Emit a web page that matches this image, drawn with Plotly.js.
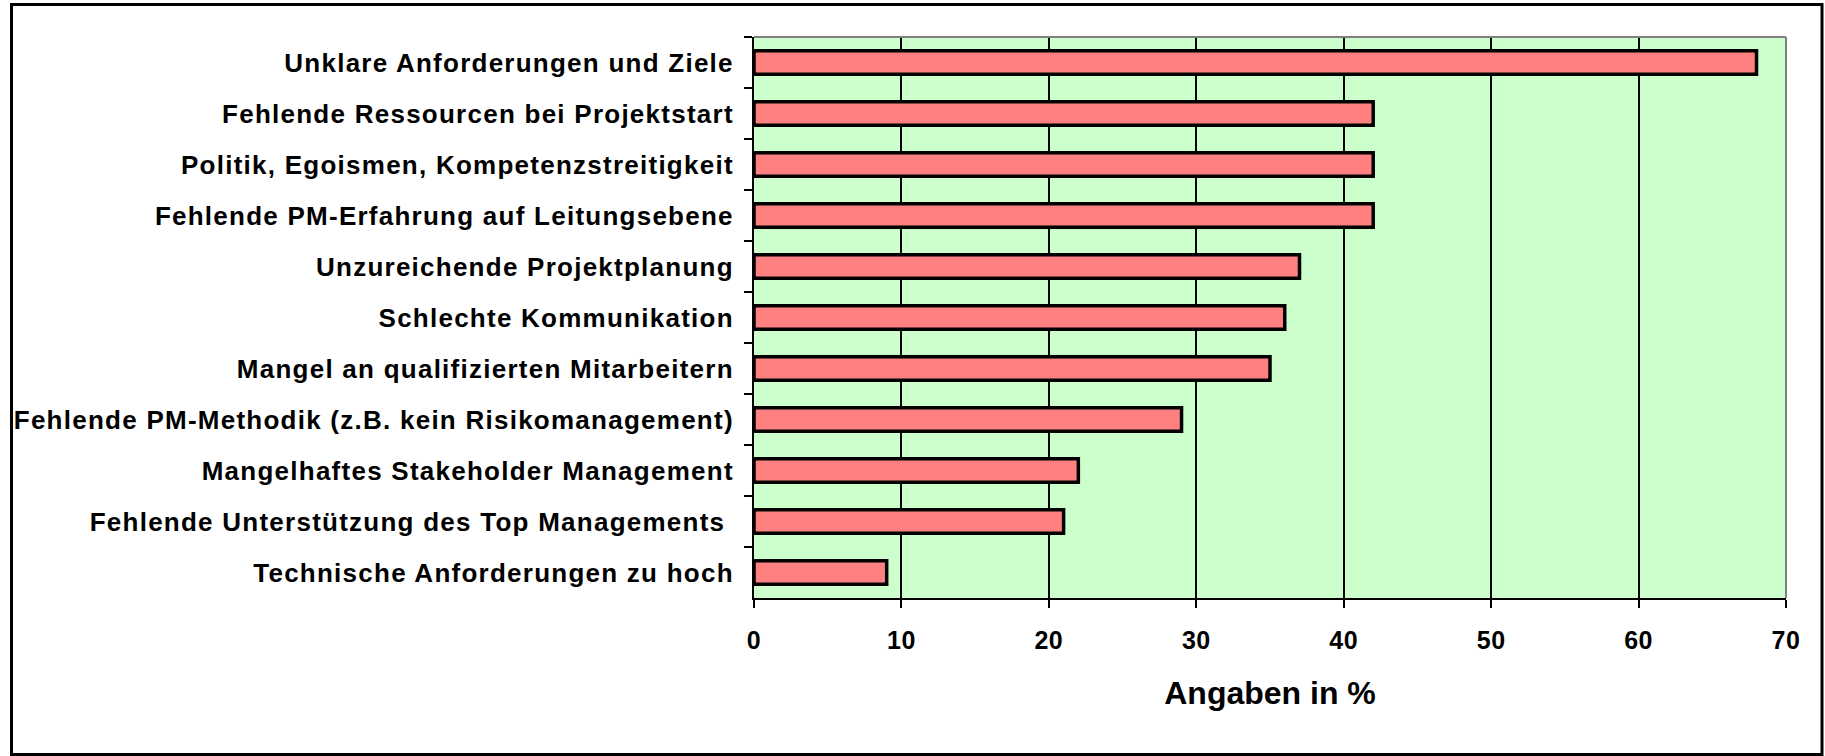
<!DOCTYPE html>
<html>
<head>
<meta charset="utf-8">
<script src="https://cdn.plot.ly/plotly-3.0.1.min.js"></script>
<style>
html, body { margin: 0; padding: 0; background: #ffffff; }
#chart { width: 1825px; height: 756px; }
#chart .ytick text { letter-spacing: 1.25px; }
#chart .xtick text { letter-spacing: 0.5px; }
</style>
</head>
<body>
<div id="chart"></div>
<script>
// Data (top to bottom as shown)
const categories = [
  "Unklare Anforderungen und Ziele",
  "Fehlende Ressourcen bei Projektstart",
  "Politik, Egoismen, Kompetenzstreitigkeit",
  "Fehlende PM-Erfahrung auf Leitungsebene",
  "Unzureichende Projektplanung",
  "Schlechte Kommunikation",
  "Mangel an qualifizierten Mitarbeitern",
  "Fehlende PM-Methodik (z.B. kein Risikomanagement)",
  "Mangelhaftes Stakeholder Management",
  "Fehlende Unterstützung des Top Managements\u00a0",
  "Technische Anforderungen zu hoch"
];
const values = [68, 42, 42, 42, 37, 36, 35, 29, 22, 21, 9];
const xTickValues = [0, 10, 20, 30, 40, 50, 60, 70];
const xAxisTitle = "Angaben in %";

const W = 1825, H = 756;
const mL = 754, mR = 39, mT = 37, mB = 158;
const pw = W - mL - mR, ph = H - mT - mB;
// outer frame in paper coords
const fx0 = (11.5 - mL) / pw, fx1 = (1822 - mL) / pw;
const fy1 = (H - mB - 4.5) / ph, fy0 = (H - mB - 754.5) / ph;

const font = "Liberation Sans, Arial, Helvetica, sans-serif";

const trace = {
  type: "bar",
  orientation: "h",
  y: categories,
  x: values,
  marker: { color: "#FF8080", line: { color: "#000000", width: 3.5 } },
  hoverinfo: "x+y"
};

const layout = {
  width: W, height: H,
  margin: { l: mL, r: mR, t: mT, b: mB, pad: 0 },
  paper_bgcolor: "#ffffff",
  plot_bgcolor: "#CCFFCC",
  showlegend: false,
  bargap: 0.54,
  font: { family: font, color: "#000000" },
  xaxis: {
    range: [0, 70],
    tickvals: xTickValues,
    ticktext: xTickValues.map(String),
    ticks: "outside", ticklen: 8, tickwidth: 2, tickcolor: "#000000",
    showgrid: true, gridcolor: "#000000", gridwidth: 2,
    zeroline: false,
    showline: true, linecolor: "#000000", linewidth: 2,
    tickfont: { family: font, size: 25, weight: "bold", color: "#000000" },
    ticklabelstandoff: 11,
    title: { text: xAxisTitle, standoff: 29, font: { family: font, size: 32, weight: "bold", color: "#000000" } },
    fixedrange: true
  },
  yaxis: {
    type: "category",
    autorange: "reversed",
    tickson: "boundaries",
    ticks: "outside", ticklen: 8, tickwidth: 2, tickcolor: "#000000",
    showgrid: false,
    zeroline: false,
    showline: true, linecolor: "#000000", linewidth: 2,
    tickfont: { family: font, size: 26, weight: "bold", color: "#000000" },
    ticklabelstandoff: 13,
    fixedrange: true
  },
  shapes: [
    { type: "line", xref: "paper", yref: "paper", x0: 0, x1: 1, y0: 1, y1: 1, line: { color: "#808080", width: 2 }, layer: "above" },
    { type: "line", xref: "paper", yref: "paper", x0: 1, x1: 1, y0: 0, y1: 1, line: { color: "#808080", width: 2 }, layer: "above" },
    { type: "rect", xref: "paper", yref: "paper", x0: fx0, x1: fx1, y0: fy0, y1: fy1, line: { color: "#000000", width: 3 }, fillcolor: "rgba(0,0,0,0)", layer: "above" }
  ]
};

Plotly.newPlot("chart", [trace], layout, { displayModeBar: false, staticPlot: true });
</script>
</body>
</html>
